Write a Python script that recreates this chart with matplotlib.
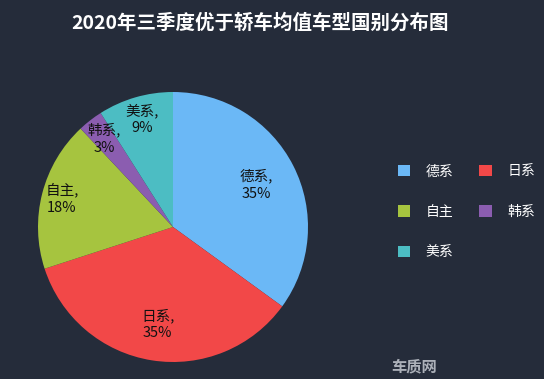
import numpy as np
import matplotlib.pyplot as plt
from matplotlib.patches import Patch

plt.rcParams['font.family'] = ['Noto Sans CJK SC', 'DejaVu Sans']

categories = ["德系", "日系", "自主", "韩系", "美系"]
shares = [35, 35, 18, 3, 9]
colors = ["#6bb8f6", "#f24848", "#a6c43f", "#8b5db0", "#4cbdc3"]
label_dist = [0.69, 0.73, 0.85, 0.83, 0.83]
title = "2020年三季度优于轿车均值车型国别分布图"

bg = "#252c3a"
W, H = 544, 379
fig = plt.figure(figsize=(W / 100, H / 100), dpi=100, facecolor=bg)

# pie: center ~ (173, 227) px, radius ~135 px
cx, cy, r = 173, 227, 135
ax = fig.add_axes([(cx - r) / W, (H - cy - r) / H, 2 * r / W, 2 * r / H])
ax.set_facecolor(bg)
wedges, texts = ax.pie(shares, colors=colors, startangle=90, counterclock=False,
                       labels=[f"{c},\n{v}%" for c, v in zip(categories, shares)],
                       radius=1, wedgeprops=dict(linewidth=0),
                       textprops=dict(color="#111111", fontsize=10.5, ha="center", va="center"))
for w, t, d in zip(wedges, texts, label_dist):
    a = np.deg2rad((w.theta1 + w.theta2) / 2)
    t.set_position((d * np.cos(a), d * np.sin(a)))
    t.set_linespacing(1.3)
ax.set_xlim(-1, 1)
ax.set_ylim(-1, 1)
ax.set_aspect("equal")
ax.axis("off")

fig.text(260 / W, 1 - 23 / H, title, color="white", fontsize=14, fontweight="bold",
         ha="center", va="center")

# legend laid out row by row: 德系 日系 / 自主 韩系 / 美系
order = [0, 2, 4, 1, 3]
handles = [Patch(facecolor=colors[i], edgecolor="none") for i in order]
fig.legend(handles, [categories[i] for i in order], loc="upper left",
           bbox_to_anchor=(385 / W, 1 - 152 / H),
           ncol=2, frameon=False, fontsize=10, labelcolor="white",
           handlelength=0.9, handleheight=0.9, handletextpad=1.1,
           columnspacing=1.9, labelspacing=1.9)

fig.text(0.72, 0.012, "车质网", color="#cfd3da", fontsize=11, fontweight="bold",
         ha="left", va="bottom", alpha=0.8)

fig.savefig("out.png", dpi=100, facecolor=bg)
